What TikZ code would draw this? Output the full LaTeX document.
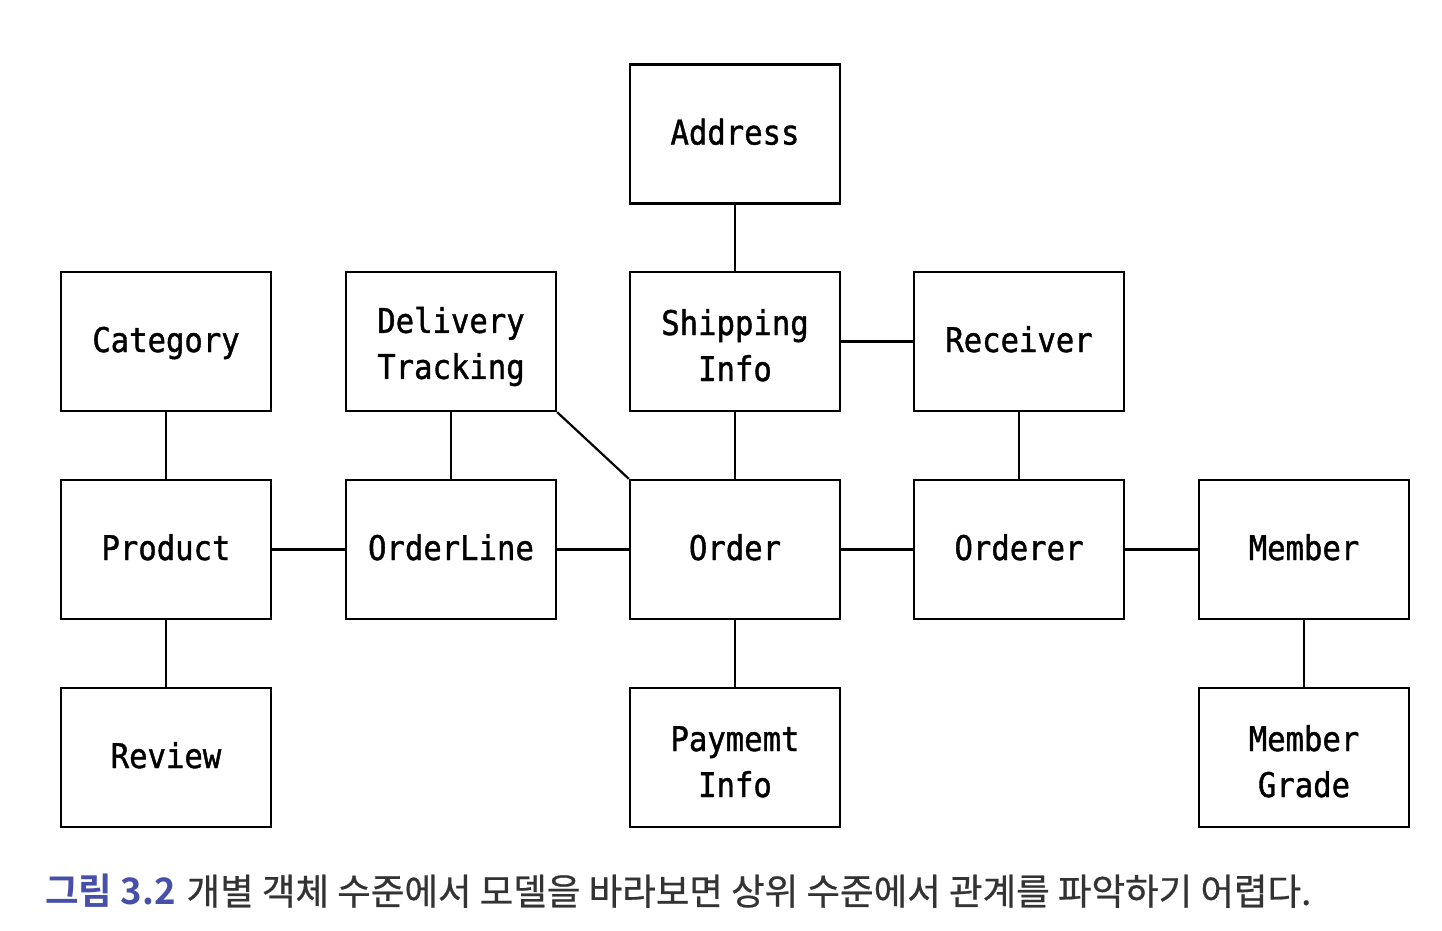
\documentclass[tikz,border=0pt]{standalone}
\usepackage{fontspec}
\newfontfamily\boxfont[FakeStretch=0.9,FakeBold=1.2]{DejaVu Sans Mono}
\newfontfamily\krfont[FakeBold=0.6]{Noto Sans CJK KR}
\newfontfamily\krbold{Noto Sans CJK KR Bold}
\definecolor{capblue}{HTML}{4750A8}
\definecolor{capgray}{HTML}{333333}
\newcommand\lineA[1]{\rule[-9pt]{0pt}{39pt}#1}
\newcommand\lineB[1]{\rule[-3pt]{0pt}{39pt}#1}
\begin{document}
\begin{tikzpicture}[x=1pt,y=-1pt,
  ent/.style={draw=black,line width=2.4pt,minimum width=210pt,minimum height=139pt,
    inner sep=0pt,align=center,font=\boxfont\fontsize{34}{46}\selectfont},
  link/.style={draw=black,line width=2.2pt}]
\useasboundingbox (0,0) rectangle (1442,930);
\node[ent] (address) at (735,134) {\lineA{Address}};
\node[ent] (category) at (166,341.5) {\lineA{Category}};
\node[ent] (delivery) at (451,341.5) {\lineB{Delivery}\\\lineB{Tracking}};
\node[ent] (shipping) at (735,341.5) {\lineB{Shipping}\\\lineB{Info}};
\node[ent] (receiver) at (1019,341.5) {\lineA{Receiver}};
\node[ent] (product) at (166,549.5) {\lineA{Product}};
\node[ent] (orderline) at (451,549.5) {\lineA{OrderLine}};
\node[ent] (order) at (735,549.5) {\lineA{Order}};
\node[ent] (orderer) at (1019,549.5) {\lineA{Orderer}};
\node[ent] (member) at (1304,549.5) {\lineA{Member}};
\node[ent] (review) at (166,757.5) {\lineA{Review}};
\node[ent] (payment) at (735,757.5) {\lineB{Paymemt}\\\lineB{Info}};
\node[ent] (grade) at (1304,757.5) {\lineB{Member}\\\lineB{Grade}};
\draw[link] (address) -- (shipping);
\draw[link] (shipping) -- (receiver);
\draw[link] (shipping) -- (order);
\draw[link] (receiver) -- (orderer);
\draw[link] (category) -- (product);
\draw[link] (delivery) -- (orderline);
\draw[link] (delivery.south east) -- (order.north west);
\draw[link] (product) -- (orderline);
\draw[link] (orderline) -- (order);
\draw[link] (order) -- (orderer);
\draw[link] (orderer) -- (member);
\draw[link] (member) -- (grade);
\draw[link] (product) -- (review);
\draw[link] (order) -- (payment);
\node[anchor=west,inner sep=0pt] (caption) at (45,891)
  {\fontsize{36.5}{42}\selectfont{\krbold\color{capblue}그림 3.2} {\krfont\color{capgray}개별 객체 수준에서 모델을 바라보면 상위 수준에서 관계를 파악하기 어렵다.}};
\end{tikzpicture}
\end{document}
